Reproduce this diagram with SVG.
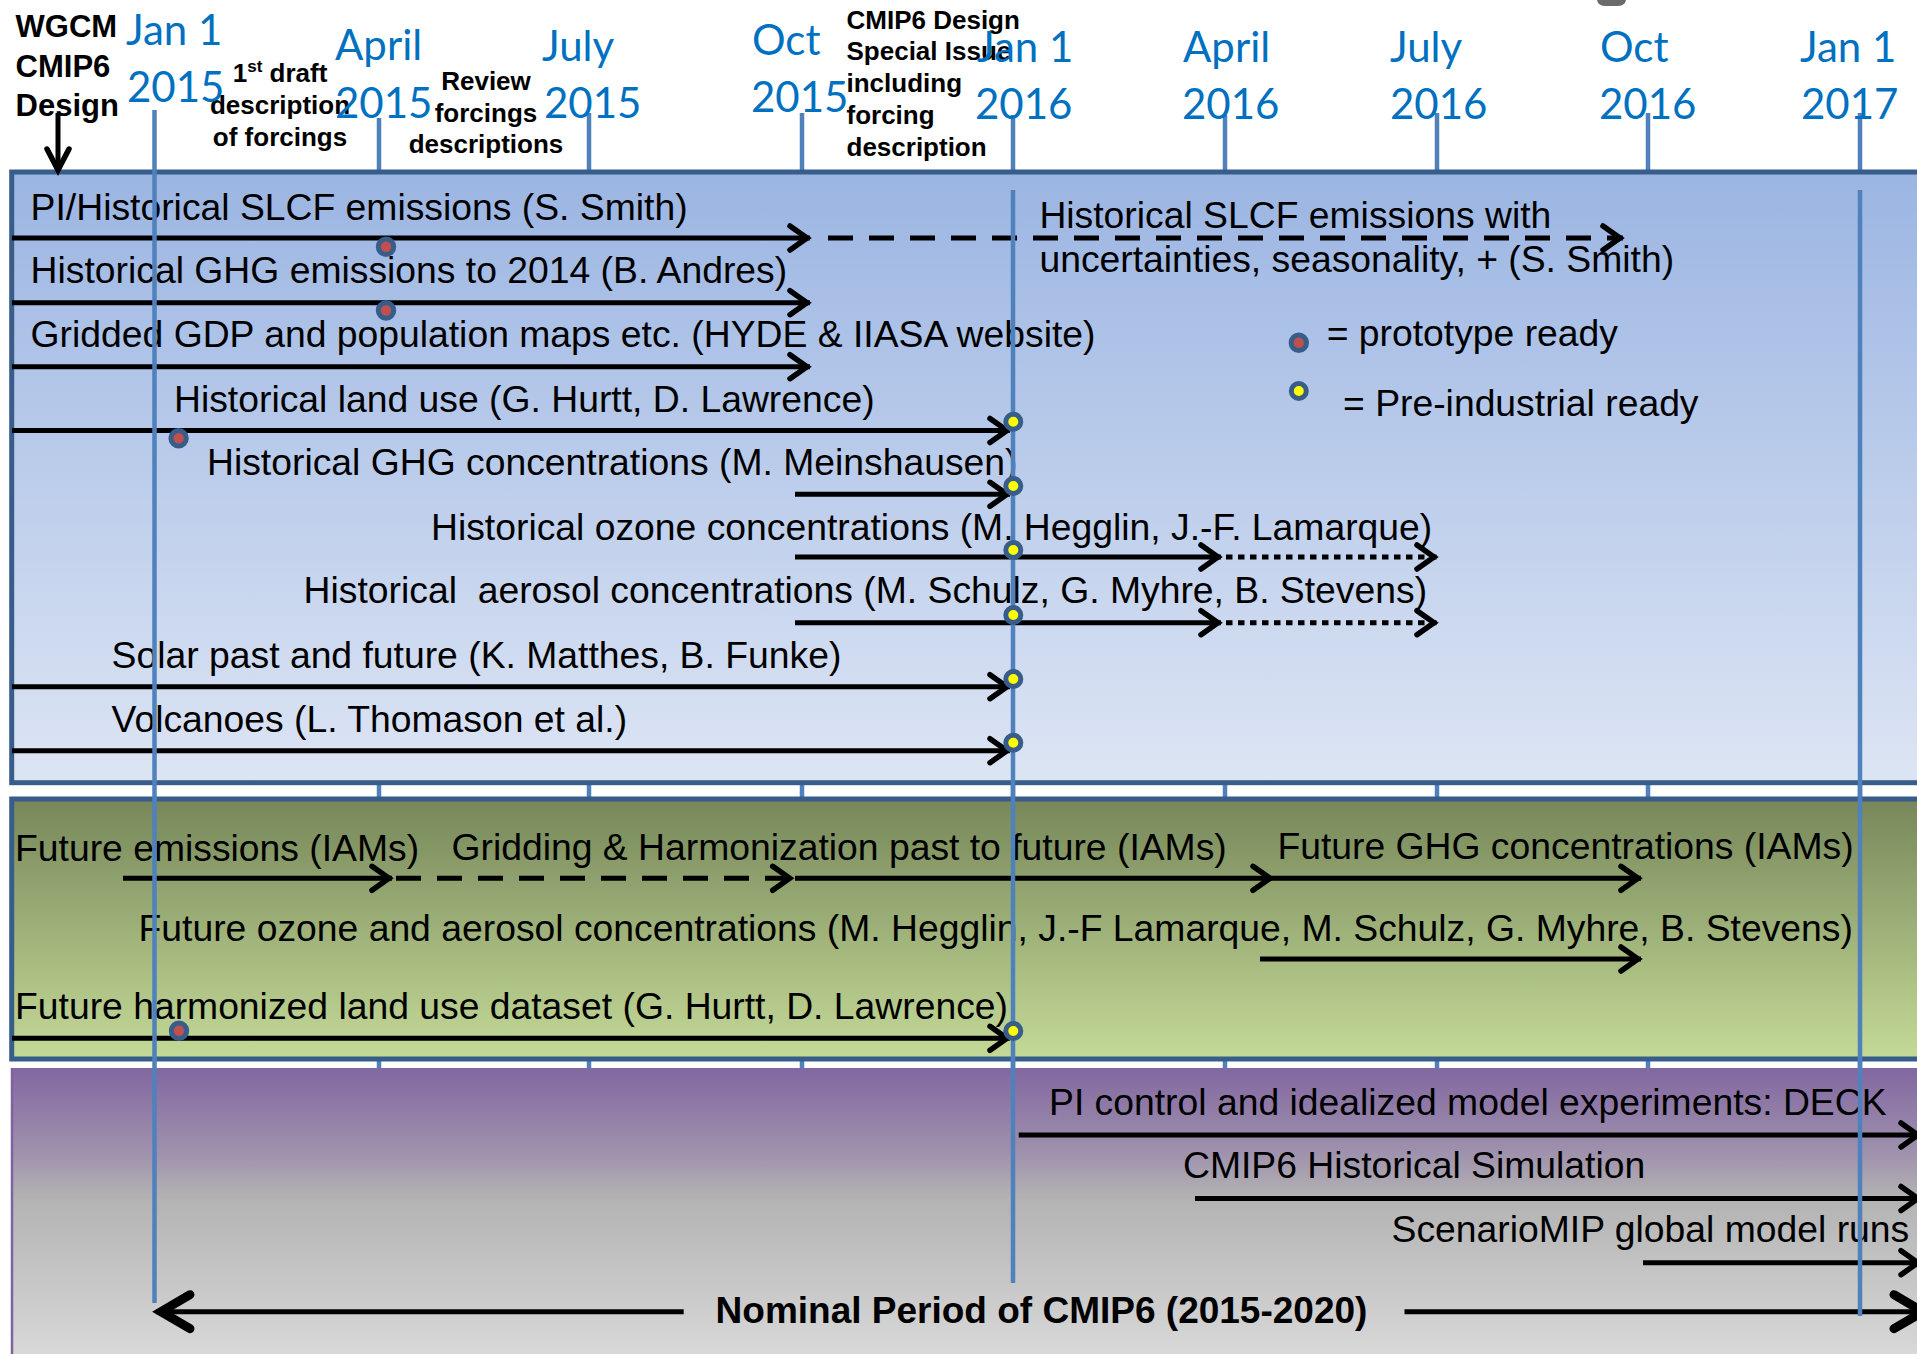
<svg xmlns="http://www.w3.org/2000/svg" width="1917" height="1354" viewBox="0 0 1917 1354">
<style>
.t{font-family:"Liberation Sans",Arial,sans-serif;font-size:37.3px;fill:#000}
.b{font-family:"Liberation Sans",Arial,sans-serif;font-weight:bold;fill:#000}
.d{font-family:Lato,"Open Sans",sans-serif;font-size:42px;fill:#0070c0}
.a{stroke:#000;stroke-width:5;fill:none}
.dash{stroke-dasharray:25 16}
.dot{stroke-dasharray:6.5 5.5}
.tick{stroke:#4f81bd;stroke-width:4.5}
.pr{fill:#c0504d;stroke:#385d8a;stroke-width:5}
.py{fill:#ffff00;stroke:#385d8a;stroke-width:5}
.pb{stroke:#385d8a;stroke-width:5}
</style>
<defs>
<linearGradient id="g1" x1="0" y1="0" x2="0" y2="1"><stop offset="0" stop-color="#9bb5e2"/><stop offset="1" stop-color="#dde5f4"/></linearGradient>
<linearGradient id="g2" x1="0" y1="0" x2="0" y2="1"><stop offset="0" stop-color="#77875a"/><stop offset="1" stop-color="#c4da97"/></linearGradient>
<linearGradient id="g3" x1="0" y1="0" x2="0" y2="1"><stop offset="0" stop-color="#8267a1"/><stop offset="0.3" stop-color="#a093ad"/><stop offset="0.45" stop-color="#b3b3b3"/><stop offset="1" stop-color="#d9d9d9"/></linearGradient>
<marker id="ah" markerUnits="userSpaceOnUse" viewBox="-30 -20 40 40" markerWidth="40" markerHeight="40" refX="0" refY="0" orient="auto"><path d="M-20,-12 L-3,0 L-20,12" fill="none" stroke="#000" stroke-width="5.5" stroke-linecap="round"/></marker>
<marker id="ahb" markerUnits="userSpaceOnUse" viewBox="-50 -30 60 60" markerWidth="60" markerHeight="60" refX="0" refY="0" orient="auto"><path d="M-34,-17 L-5,0 L-34,17" fill="none" stroke="#000" stroke-width="9" stroke-linecap="round"/></marker>
</defs>
<rect width="1917" height="1354" fill="#fff"/>
<path d="M1597,0 L1626,0 Q1625,6 1617,6 L1606,6 Q1598,6 1597,0 Z" fill="#6b6b6b"/>

<g id="ticks">
<line class="tick" x1="379" y1="118" x2="379" y2="1070"/>
<line class="tick" x1="589" y1="113" x2="589" y2="1070"/>
<line class="tick" x1="802" y1="113" x2="802" y2="1070"/>
<line class="tick" x1="1013" y1="115" x2="1013" y2="1070"/>
<line class="tick" x1="1225" y1="115" x2="1225" y2="1070"/>
<line class="tick" x1="1437" y1="113" x2="1437" y2="1070"/>
<line class="tick" x1="1648" y1="113" x2="1648" y2="1070"/>
<line class="tick" x1="1860" y1="113" x2="1860" y2="1070"/>
</g>

<g id="panels">
<rect x="11.7" y="172" width="1920" height="610.7" fill="url(#g1)" class="pb"/>
<rect x="11.7" y="799" width="1920" height="260" fill="url(#g2)" class="pb"/>
<rect x="11" y="1068" width="1920" height="290" fill="url(#g3)"/>
<line x1="12" y1="1068" x2="12" y2="1354" stroke="#7f63a1" stroke-width="2.5"/>
</g>

<g id="header">
<g id="wgcm"><text class="b" font-size="31"><tspan x="15.6" y="37">WGCM</tspan><tspan x="15.6" y="77">CMIP6</tspan><tspan x="15.6" y="116">Design</tspan></text></g>
<g id="draft"><text class="b" font-size="26" text-anchor="middle"><tspan x="280" y="82">1<tspan dy="-10" font-size="17">st</tspan><tspan dy="10"> draft</tspan></tspan><tspan x="280" y="114">description</tspan><tspan x="280" y="146">of forcings</tspan></text></g>
<g id="review"><text class="b" font-size="26" text-anchor="middle"><tspan x="486" y="90">Review</tspan><tspan x="486" y="122">forcings</tspan><tspan x="486" y="153">descriptions</tspan></text></g>
<g id="special"><text class="b" font-size="26"><tspan x="846.5" y="29">CMIP6 Design</tspan><tspan x="846.5" y="60">Special Issue</tspan><tspan x="846.5" y="92">including</tspan><tspan x="846.5" y="124">forcing</tspan><tspan x="846.5" y="156">description</tspan></text></g>
<g id="dates">
<text class="d"><tspan x="126" y="45">Jan 1</tspan><tspan x="127" y="102">2015</tspan></text>
<text class="d"><tspan x="335" y="60">April</tspan><tspan x="335" y="118">2015</tspan></text>
<text class="d"><tspan x="542" y="61">July</tspan><tspan x="544" y="118">2015</tspan></text>
<text class="d"><tspan x="752" y="55">Oct</tspan><tspan x="751" y="112">2015</tspan></text>
<text class="d"><tspan x="977" y="62">Jan 1</tspan><tspan x="975" y="119">2016</tspan></text>
<text class="d"><tspan x="1183" y="62">April</tspan><tspan x="1182" y="119">2016</tspan></text>
<text class="d"><tspan x="1390" y="62">July</tspan><tspan x="1390" y="119">2016</tspan></text>
<text class="d"><tspan x="1600" y="62">Oct</tspan><tspan x="1599" y="119">2016</tspan></text>
<text class="d"><tspan x="1800" y="62">Jan 1</tspan><tspan x="1801" y="119">2017</tspan></text>
</g>
<path d="M58,113 V168" class="a"/>
<path d="M47,149 L58,170 L69,149" fill="none" stroke="#000" stroke-width="5.5" stroke-linecap="round"/>
</g>

<g id="labels">
<g id="n1"><text class="t" x="30.6" y="220">PI/Historical SLCF emissions (S. Smith)</text></g>
<g id="n1b"><text class="t"><tspan x="1039.4" y="228">Historical SLCF emissions with</tspan><tspan x="1039.4" y="272">uncertainties, seasonality, + (S. Smith)</tspan></text></g>
<g id="n2"><text class="t" x="30.6" y="283">Historical GHG emissions to 2014 (B. Andres)</text></g>
<g id="n3"><text class="t" x="30.6" y="346.7">Gridded GDP and population maps etc. (HYDE &amp; IIASA website)</text></g>
<g id="n4"><text class="t" x="174" y="411.7">Historical land use (G. Hurtt, D. Lawrence)</text></g>
<g id="n5"><text class="t" x="207" y="475">Historical GHG concentrations (M. Meinshausen)</text></g>
<g id="n6"><text class="t" x="431" y="540">Historical ozone concentrations (M. Hegglin, J.-F. Lamarque)</text></g>
<g id="n7"><text class="t" x="303.6" y="603" xml:space="preserve">Historical  aerosol concentrations (M. Schulz, G. Myhre, B. Stevens)</text></g>
<g id="n8"><text class="t" x="111.6" y="668">Solar past and future (K. Matthes, B. Funke)</text></g>
<g id="n9"><text class="t" x="111.6" y="731.7">Volcanoes (L. Thomason et al.)</text></g>
<g id="legend"><text class="t" x="1326.7" y="346">= prototype ready</text><text class="t" x="1343" y="416">= Pre-industrial ready</text></g>
<g id="f1"><text class="t" x="15" y="861">Future emissions (IAMs)</text></g>
<g id="f2"><text class="t" x="451.5" y="860">Gridding &amp; Harmonization past to future (IAMs)</text></g>
<g id="f3"><text class="t" x="1277.4" y="858.5">Future GHG concentrations (IAMs)</text></g>
<g id="f4"><text class="t" x="138.5" y="941">Future ozone and aerosol concentrations (M. Hegglin, J.-F Lamarque, M. Schulz, G. Myhre, B. Stevens)</text></g>
<g id="f5"><text class="t" x="15" y="1019">Future harmonized land use dataset (G. Hurtt, D. Lawrence)</text></g>
<g id="e1"><text class="t" x="1049" y="1115">PI control and idealized model experiments: DECK</text></g>
<g id="e2"><text class="t" x="1183" y="1178">CMIP6 Historical Simulation</text></g>
<g id="e3"><text class="t" x="1391.6" y="1241.7">ScenarioMIP global model runs</text></g>
<g id="nominal"><text class="b" font-size="37" x="715.6" y="1323">Nominal Period of CMIP6 (2015-2020)</text></g>
</g>

<g id="connectors">
<line class="a" x1="12" y1="238" x2="810" y2="238" marker-end="url(#ah)"/>
<line class="a dash" x1="828" y1="238" x2="1623" y2="238" marker-end="url(#ah)"/>
<line class="a" x1="12" y1="302.7" x2="810" y2="302.7" marker-end="url(#ah)"/>
<line class="a" x1="12" y1="366.7" x2="810" y2="366.7" marker-end="url(#ah)"/>
<line class="a" x1="12" y1="430.5" x2="1010" y2="430.5" marker-end="url(#ah)"/>
<line class="a" x1="795" y1="494.3" x2="1010" y2="494.3" marker-end="url(#ah)"/>
<line class="a" x1="795" y1="557" x2="1221" y2="557" marker-end="url(#ah)"/>
<line class="a dot" x1="1226" y1="557" x2="1437" y2="557" marker-end="url(#ah)"/>
<line class="a" x1="795" y1="622.7" x2="1221" y2="622.7" marker-end="url(#ah)"/>
<line class="a dot" x1="1226" y1="622.7" x2="1437" y2="622.7" marker-end="url(#ah)"/>
<line class="a" x1="12" y1="686.7" x2="1010" y2="686.7" marker-end="url(#ah)"/>
<line class="a" x1="12" y1="750.7" x2="1010" y2="750.7" marker-end="url(#ah)"/>
<line class="a" x1="123" y1="878.3" x2="392" y2="878.3" marker-end="url(#ah)"/>
<line class="a dash" x1="396" y1="878.3" x2="792.7" y2="878.3" marker-end="url(#ah)"/>
<line class="a" x1="795" y1="878.3" x2="1273" y2="878.3" marker-end="url(#ah)"/>
<line class="a" x1="1273" y1="878.3" x2="1641" y2="878.3" marker-end="url(#ah)"/>
<line class="a" x1="1260" y1="959" x2="1641" y2="959" marker-end="url(#ah)"/>
<line class="a" x1="12" y1="1038.3" x2="1010" y2="1038.3" marker-end="url(#ah)"/>
<line class="a" x1="1018.7" y1="1135" x2="1921" y2="1135" stroke-width="6" marker-end="url(#ah)"/>
<line class="a" x1="1195" y1="1198.5" x2="1921" y2="1198.5" stroke-width="6" marker-end="url(#ah)"/>
<line class="a" x1="1643" y1="1262.7" x2="1921" y2="1262.7" stroke-width="6" marker-end="url(#ah)"/>
<line class="a" x1="683.7" y1="1311.7" x2="156" y2="1311.7" stroke-width="9" marker-end="url(#ahb)"/>
<line class="a" x1="1404.5" y1="1311.7" x2="1928" y2="1311.7" stroke-width="9" marker-end="url(#ahb)"/>
</g>

<g id="milestones">
<line class="tick" x1="154.5" y1="110" x2="154.5" y2="1303"/>
<line class="tick" x1="1013" y1="190" x2="1013" y2="1283"/>
<line class="tick" x1="1860" y1="190" x2="1860" y2="1316"/>
</g>

<g id="dots">
<circle class="pr" cx="386" cy="246.7" r="7.7"/>
<circle class="pr" cx="386" cy="310.5" r="7.7"/>
<circle class="pr" cx="178.6" cy="438.3" r="7.7"/>
<circle class="pr" cx="179" cy="1030.7" r="7.7"/>
<circle class="pr" cx="1298.8" cy="342.7" r="7.7"/>
<circle class="py" cx="1013.3" cy="421.7" r="7.5"/>
<circle class="py" cx="1013.3" cy="486" r="7.5"/>
<circle class="py" cx="1013.3" cy="550" r="7.5"/>
<circle class="py" cx="1013.3" cy="615" r="7.5"/>
<circle class="py" cx="1013.3" cy="679" r="7.5"/>
<circle class="py" cx="1013.3" cy="742.7" r="7.5"/>
<circle class="py" cx="1013.3" cy="1031" r="7.5"/>
<circle class="py" cx="1298.8" cy="391" r="7.5"/>
</g>
</svg>
